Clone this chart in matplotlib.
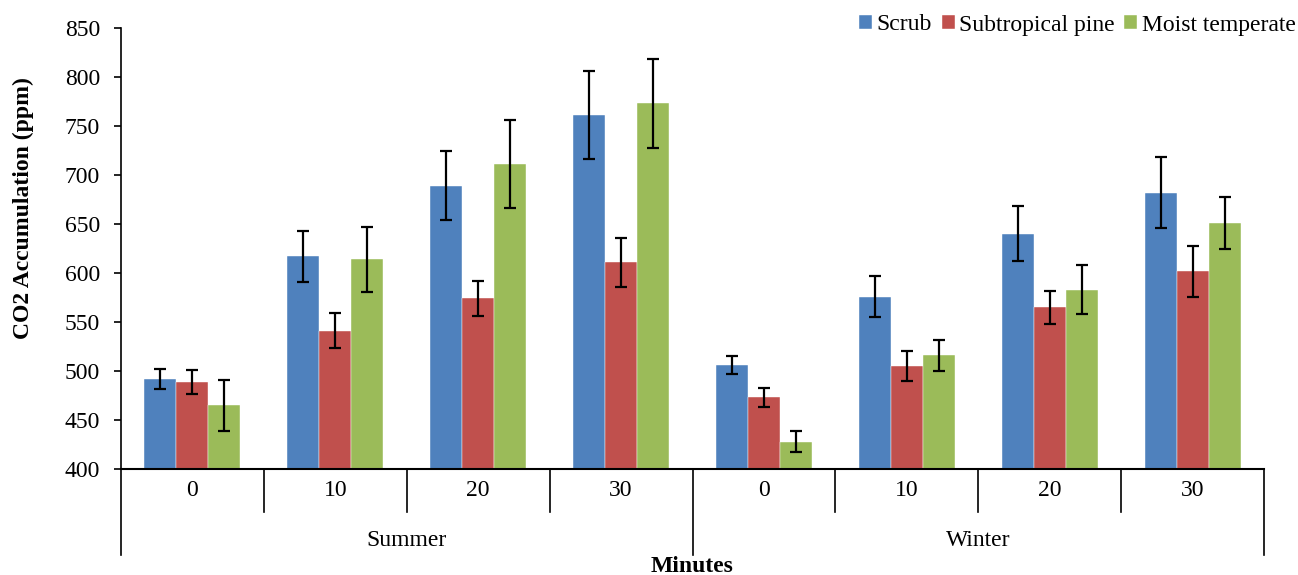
import matplotlib
matplotlib.use("Agg")
import matplotlib.pyplot as plt
import numpy as np
from matplotlib.transforms import blended_transform_factory

plt.rcParams['font.family'] = ['Liberation Serif', 'DejaVu Serif']

seasons = ["Summer", "Winter"]
minutes = ["0", "10", "20", "30"]
series = ["Scrub", "Subtropical pine", "Moist temperate"]
colors = ["#4F81BD", "#C0504D", "#9BBB59"]

scrub = [492, 617, 689, 761, 506, 576, 640, 682]
scrub_err = [10, 26, 35, 45, 9, 21, 28, 36]
pine = [489, 541, 574, 611, 473, 505, 565, 602]
pine_err = [12, 18, 18, 25, 10, 15, 17, 26]
moist = [465, 614, 711, 773, 428, 516, 583, 651]
moist_err = [26, 33, 45, 45, 11, 16, 25, 27]

values = [scrub, pine, moist]
errors = [scrub_err, pine_err, moist_err]

FS = 17

fig = plt.figure(figsize=(12.98, 5.75), dpi=100)
ax = fig.add_axes([121/1298, 1-469/575, (1264-121)/1298, (469-28)/575])

n = len(seasons) * len(minutes)
x = np.arange(n)
w = 0.224
for j, (vals, errs) in enumerate(zip(values, errors)):
    ax.bar(x + (j - 1) * w, np.array(vals) - 400, w, bottom=400, color=colors[j],
           label=series[j], edgecolor='white', linewidth=0.3, zorder=2)
    ax.errorbar(x + (j - 1) * w, vals, yerr=errs, fmt='none', ecolor='black',
                elinewidth=1.6, capsize=4, capthick=1.6, zorder=3)

ax.set_xlim(-0.5, n - 0.5)
ax.set_ylim(400, 850)
ax.set_yticks(np.arange(400, 851, 50))
ax.tick_params(axis='y', labelsize=FS, length=5, width=1.2, direction='out', pad=10)
ax.set_xticks([])
for s in ['top', 'right']:
    ax.spines[s].set_visible(False)
ax.spines['left'].set_linewidth(1.2)
ax.spines['bottom'].set_linewidth(1.5)

fig.text(23 / 1298, 1 - 208 / 575, "CO2 Accumulation (ppm)", rotation=90,
         ha='center', va='center', fontsize=FS, fontweight='bold')

trans = blended_transform_factory(ax.transData, ax.transAxes)
px = 1 / 441.0  # axes fraction per pixel (height)
labels = minutes * len(seasons)
for i, lab in enumerate(labels):
    ax.text(i, -22 * px, lab, transform=trans, ha='center', va='center', fontsize=FS)
for k in range(n + 1):
    major = (k % len(minutes) == 0)
    y1 = -86 * px if major else -43 * px
    ax.plot([k - 0.5, k - 0.5], [0, y1], transform=trans, color='black',
            lw=1.2, clip_on=False)
for si, s in enumerate(seasons):
    cx = si * len(minutes) + (len(minutes) - 1) / 2
    ax.text(cx, -72 * px, s, transform=trans, ha='center', va='center', fontsize=FS)

fig.text((121 + 1264) / 2 / 1298, 1 - 567 / 575, "Minutes", ha='center', va='center',
         fontsize=FS, fontweight='bold')

fig.legend(loc='center right', bbox_to_anchor=(0.9985, 1 - 25 / 575), ncol=3,
           frameon=False, fontsize=FS, handlelength=0.55, handleheight=0.55,
           handletextpad=0.2, columnspacing=0.4, borderpad=0, borderaxespad=0)

fig.savefig("out.png", dpi=100)
